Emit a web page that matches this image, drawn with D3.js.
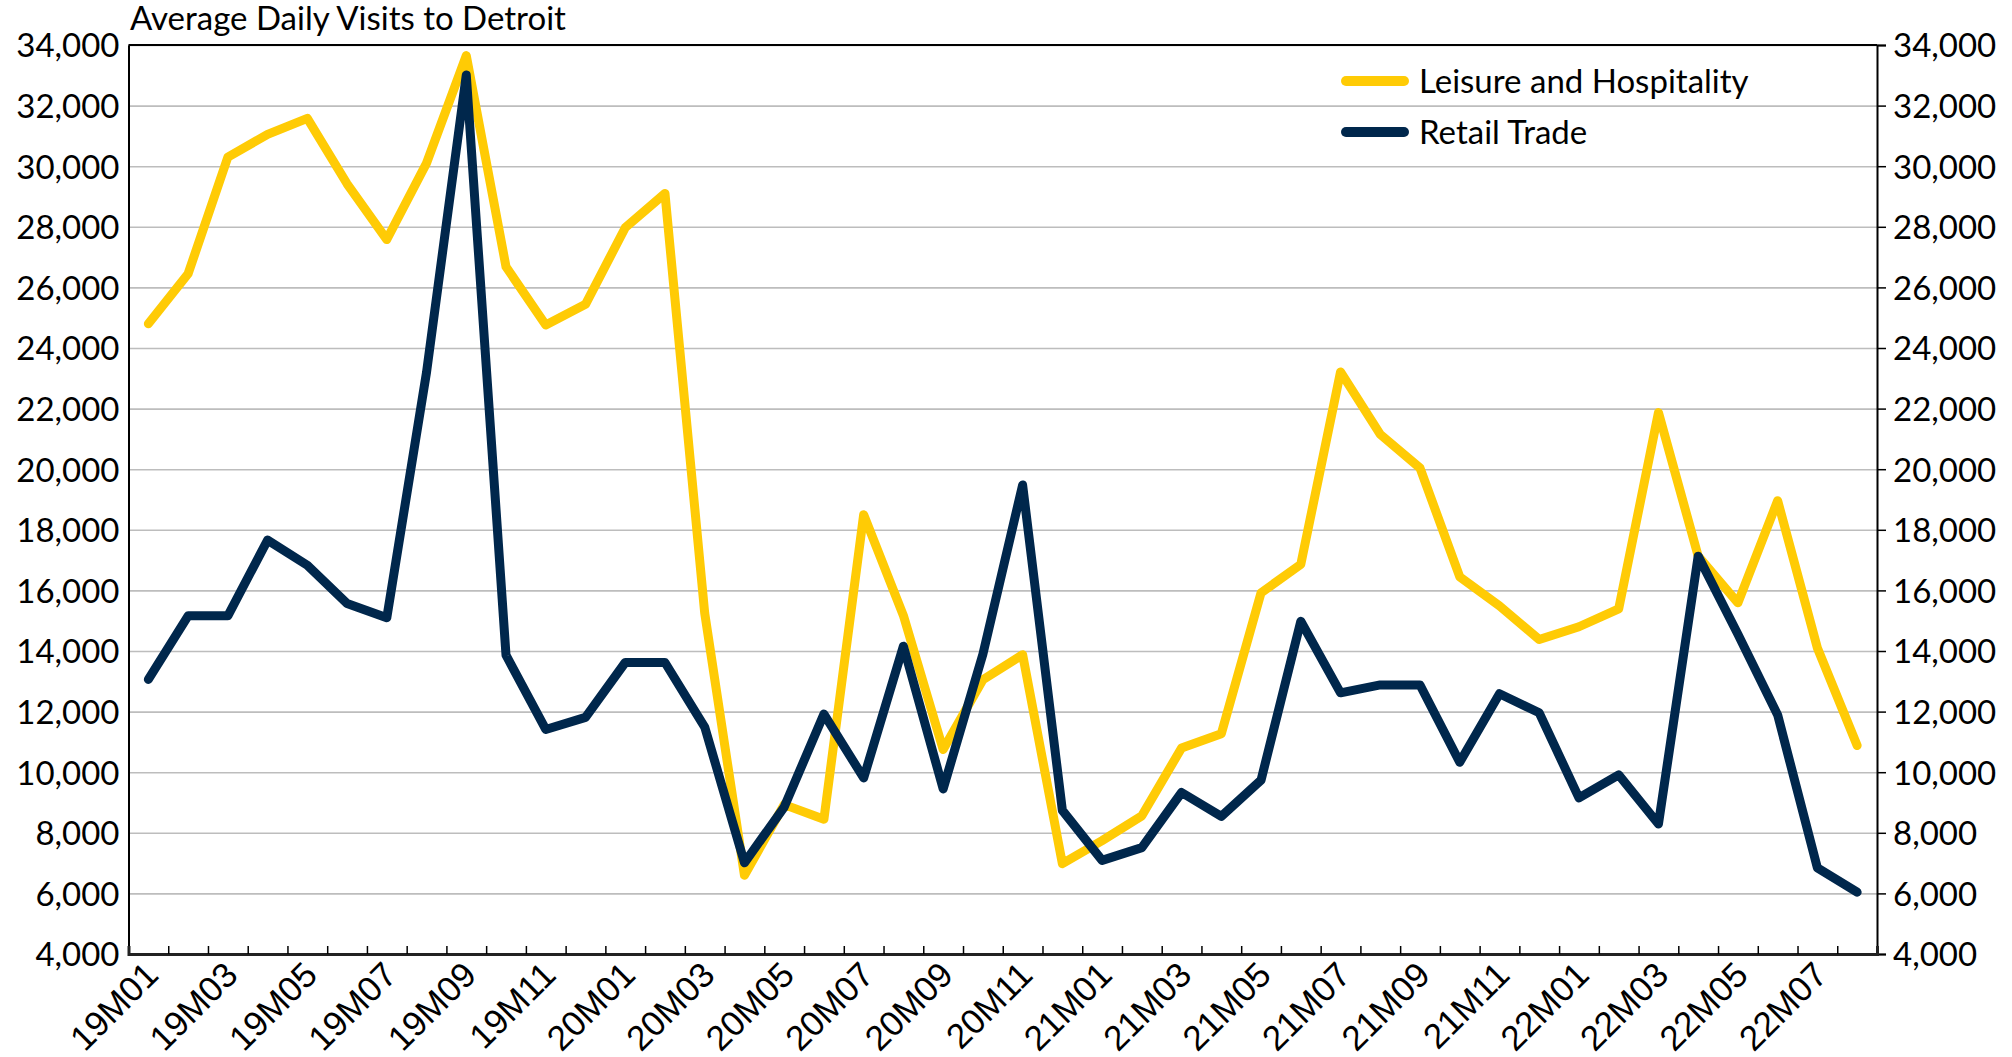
<!DOCTYPE html>
<html>
<head>
<meta charset="utf-8">
<script src="https://cdn.jsdelivr.net/npm/d3@7"></script>
<style>
  html, body { margin: 0; background: #fff; overflow: hidden; }
  svg { display: block; width: 100vw; height: 100vh; }
  .tick-label { font-family: Lato, 'Open Sans', sans-serif; font-size: 33px; fill: #000; }
  .title { font-family: Lato, 'Open Sans', sans-serif; font-size: 33px; fill: #000; }
  .legend-label { font-family: Lato, 'Open Sans', sans-serif; font-size: 33px; fill: #000; }
</style>
</head>
<body>
<svg viewBox="0 0 2012 1057"></svg>
<script>
  const months = [
    '19M01','19M02','19M03','19M04','19M05','19M06','19M07','19M08','19M09','19M10','19M11','19M12',
    '20M01','20M02','20M03','20M04','20M05','20M06','20M07','20M08','20M09','20M10','20M11','20M12',
    '21M01','21M02','21M03','21M04','21M05','21M06','21M07','21M08','21M09','21M10','21M11','21M12',
    '22M01','22M02','22M03','22M04','22M05','22M06','22M07','22M08'
  ];
  const leisure = [
    24800, 26450, 30300, 31050, 31580, 29420, 27580, 30100, 33650, 26680, 24760, 25440,
    27970, 29100, 15250, 6600, 8930, 8450, 18500, 15170, 10750, 13050, 13880, 6980,
    7740, 8560, 10800, 11270, 15920, 16860, 23210, 21150, 20040, 16450, 15490, 14380,
    14800, 15390, 21870, 17130, 15590, 18960, 14100, 10880
  ];
  const retail = [
    13060, 15160, 15160, 17660, 16830, 15570, 15100, 23200, 33010, 13860, 11410, 11810,
    13620, 13620, 11490, 7010, 8850, 11920, 9810, 14160, 9450, 13890, 19480, 8740,
    7090, 7510, 9330, 8540, 9740, 14980, 12620, 12880, 12880, 10330, 12590, 11960,
    9150, 9910, 8290, 17130, 14550, 11890, 6840, 6040
  ];
  const yTicks = [4000, 6000, 8000, 10000, 12000, 14000, 16000, 18000, 20000,
    22000, 24000, 26000, 28000, 30000, 32000, 34000];
  const xTickLabels = months.filter((m, i) => i % 2 === 0);
  const seriesNames = ['Leisure and Hospitality', 'Retail Trade'];
  const seriesColors = ['#FFCB05', '#00274C'];
  const title = 'Average Daily Visits to Detroit';

  const margin = { left: 128.5, right: 135, top: 45, bottom: 103 };

  const svg = d3.select('svg');
  const width = 2012;
  const height = 1057;
  const innerWidth = width - margin.left - margin.right;
  const innerHeight = height - margin.top - margin.bottom;

  const g = svg.append('g')
      .attr('transform', `translate(${margin.left},${margin.top})`);

  const xScale = d3.scaleBand()
    .domain(months)
    .range([0, innerWidth])
    .padding(0);
  const xEdge = d3.scaleLinear()
    .domain([0, months.length])
    .range([0, innerWidth]);
  const yScale = d3.scaleLinear()
    .domain([4000, 34000])
    .range([innerHeight, 0]);
  const xPos = m => xScale(m) + xScale.bandwidth() / 2;

  // gridlines
  g.append('g')
    .call(d3.axisLeft(yScale).tickValues(yTicks.slice(1)).tickSize(-innerWidth).tickFormat(''))
    .call(a => a.select('.domain').remove())
    .selectAll('line')
      .attr('stroke', '#bdbdbd')
      .attr('stroke-width', 1.6);

  // left labels
  g.append('g')
    .call(d3.axisLeft(yScale).tickValues(yTicks).tickSize(0).tickPadding(9).tickFormat(d3.format(',')))
    .call(a => a.select('.domain').attr('stroke', '#000').attr('stroke-width', 2))
    .selectAll('text')
      .attr('class', 'tick-label')
      .attr('dy', '0.36em');

  // right labels
  g.append('g')
    .attr('transform', `translate(${innerWidth},0)`)
    .call(d3.axisRight(yScale).tickValues(yTicks).tickSize(9).tickPadding(7).tickFormat(d3.format(',')))
    .call(a => a.select('.domain').attr('stroke', '#000').attr('stroke-width', 2))
    .call(a => a.selectAll('line').attr('stroke', '#000').attr('stroke-width', 1.5))
    .selectAll('text')
      .attr('class', 'tick-label')
      .attr('dy', '0.36em');

  // top border
  g.append('line')
    .attr('x1', 0).attr('x2', innerWidth)
    .attr('y1', 0).attr('y2', 0)
    .attr('stroke', '#000')
    .attr('stroke-width', 2);

  // bottom axis with inner ticks at category edges
  g.append('g')
    .attr('transform', `translate(0,${innerHeight})`)
    .call(d3.axisBottom(xEdge).tickValues(d3.range(1, months.length)).tickSize(-8).tickFormat(''))
    .call(a => a.select('.domain').attr('stroke', '#222').attr('stroke-width', 3))
    .selectAll('line')
      .attr('stroke', '#000')
      .attr('stroke-width', 1.5);

  // rotated month labels
  g.append('g')
    .selectAll('text')
    .data(xTickLabels)
    .enter().append('text')
      .attr('text-anchor', 'end')
      .attr('transform', d => `translate(${xPos(d) + 12},${innerHeight + 23}) rotate(-45)`)
      .style('font-family', "'Liberation Sans', Arial, sans-serif")
      .style('font-size', '35px')
      .style('fill', '#000')
      .text(d => d);

  // lines
  const line = d3.line()
    .x((d, i) => xPos(months[i]))
    .y(d => yScale(d));

  [leisure, retail].forEach((series, k) => {
    g.append('path')
      .datum(series)
      .attr('fill', 'none')
      .attr('stroke', seriesColors[k])
      .attr('stroke-width', 9)
      .attr('stroke-linejoin', 'round')
      .attr('stroke-linecap', 'round')
      .attr('d', line);
  });

  // title
  svg.append('text')
    .attr('class', 'title')
    .attr('x', 130)
    .attr('y', 30)
    .text(title);

  // legend
  const legendG = svg.append('g')
    .attr('transform', 'translate(1342,81)');
  seriesNames.forEach((name, k) => {
    const row = legendG.append('g')
      .attr('transform', `translate(0,${k * 51})`);
    row.append('line')
      .attr('x1', 4).attr('x2', 62)
      .attr('stroke', seriesColors[k])
      .attr('stroke-width', 10)
      .attr('stroke-linecap', 'round');
    row.append('text')
      .attr('class', 'legend-label')
      .attr('x', 77)
      .attr('dy', '0.35em')
      .text(name);
  });
</script>
</body>
</html>
